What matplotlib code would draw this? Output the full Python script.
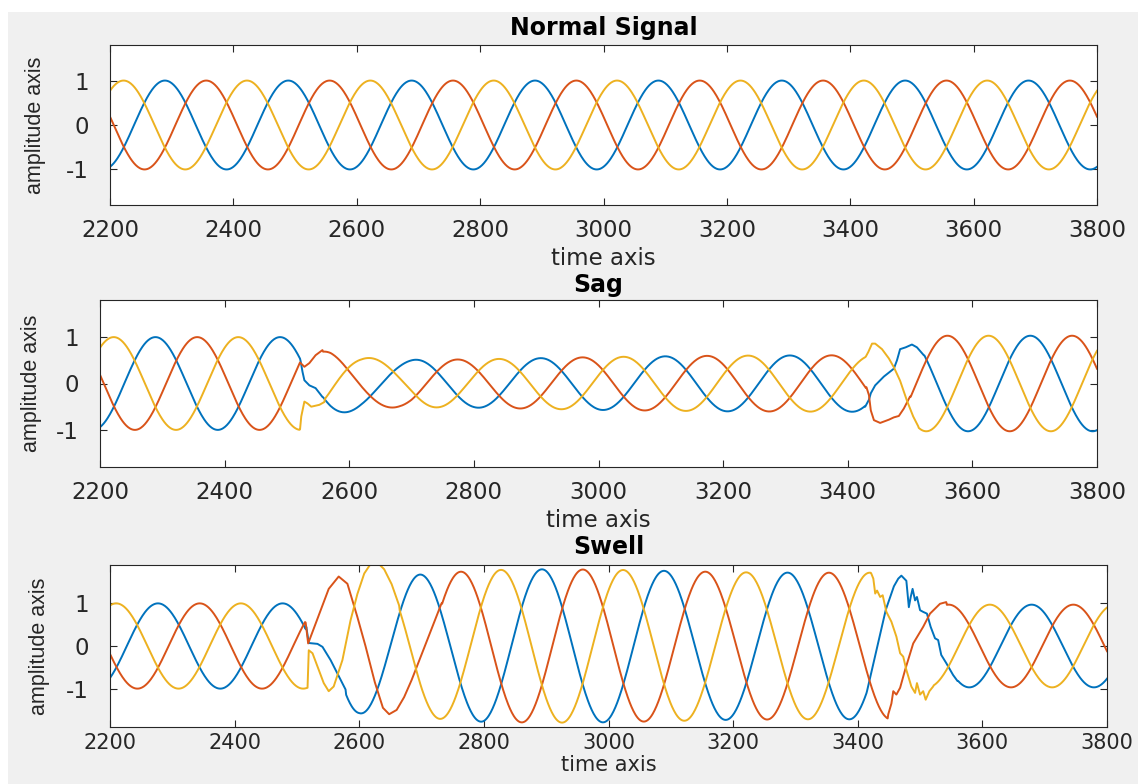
import numpy as np
import matplotlib.pyplot as plt
from matplotlib.patches import Rectangle

# ---------------- data ----------------
period = 200                       # samples per cycle
t_start, t_end = 2200, 3800
colors = ['#0072BD', '#D95319', '#EDB120']
peak_sample = [2289, 2356, 2222]   # a positive peak of each phase (normal signal)

# sag: steady part before / during / after the dip
sag_before_shift, sag_before_amp = 0, 1.0
sag_shift_t = [2520, 2600, 2700, 3430]
sag_shift = [2, 8, 18, 18]
sag_amp_t = [2520, 2570, 2620, 2680, 2800, 3000, 3200, 3430]
sag_amp = [0.72, 0.68, 0.56, 0.51, 0.52, 0.57, 0.60, 0.61]
sag_after_shift, sag_after_amp = 4, 1.03

# sag disturbance samples, one list per phase (blue, red, yellow)
sag_on_t = [[2522, 2525, 2528, 2536, 2546, 2557],
            [2522, 2528, 2536, 2546, 2557],
            [2521, 2523, 2528, 2533, 2539, 2552, 2560]]
sag_on_v = [[0.48, 0.25, 0.07, -0.04, -0.10, -0.29],
            [0.44, 0.36, 0.44, 0.61, 0.72],
            [-0.99, -0.71, -0.39, -0.43, -0.50, -0.46, -0.40]]
sag_off_t = [[3428, 3434, 3437, 3444, 3458, 3474, 3479, 3484, 3493, 3503, 3511, 3522],
             [3430, 3434, 3437, 3442, 3452, 3466, 3474, 3482, 3490, 3500],
             [3429, 3433, 3439, 3444, 3455, 3466, 3474, 3484, 3495, 3505, 3513]]
sag_off_v = [[-0.50, -0.35, -0.21, -0.04, 0.15, 0.32, 0.50, 0.74, 0.78, 0.84, 0.78, 0.61],
             [-0.08, -0.25, -0.58, -0.79, -0.85, -0.78, -0.73, -0.70, -0.54, -0.28],
             [0.58, 0.68, 0.86, 0.86, 0.74, 0.54, 0.35, 0.06, -0.37, -0.71, -0.92]]

# swell: steady part before / during / after the rise
swell_before_shift, swell_before_amp = -12, 1.0
swell_shift_t = [2560, 2700, 2800, 3100, 3440]
swell_shift = [16, 8, 6, 0, -3]
swell_amp_t = [2560, 2600, 2650, 2700, 2800, 2900, 3000, 3100, 3200, 3300, 3460]
swell_amp = [1.65, 1.58, 1.60, 1.68, 1.78, 1.80, 1.79, 1.76, 1.73, 1.72, 1.72]
swell_after_shift, swell_after_amp = -10, 0.97

swell_on_t = [[2515, 2519, 2526, 2533, 2541, 2554, 2570, 2578],
              [2514, 2518, 2527, 2538, 2551, 2567, 2581, 2597, 2610, 2625, 2638, 2648,
               2660, 2672, 2684, 2696, 2708, 2720, 2732],
              [2517, 2519, 2525, 2535, 2543, 2551, 2559, 2573, 2586, 2597, 2608, 2618,
               2629, 2640, 2652, 2664]]
swell_on_v = [[0.45, 0.07, 0.06, 0.05, -0.02, -0.33, -0.79, -1.02],
              [0.55, 0.06, 0.41, 0.84, 1.34, 1.63, 1.46, 0.68, 0.0, -0.85, -1.45, -1.60,
               -1.50, -1.20, -0.80, -0.35, 0.10, 0.55, 1.00],
              [-0.98, -0.10, -0.17, -0.56, -0.87, -1.06, -0.95, -0.33, 0.60, 1.22, 1.70, 1.92,
               1.96, 1.80, 1.45, 0.95]]
swell_off_t = [[3415, 3430, 3445, 3458, 3465, 3470, 3478, 3482, 3485, 3488, 3492, 3495,
                3500, 3505, 3511, 3517, 3524, 3529, 3534, 3542, 3553, 3560],
               [3449, 3454, 3457, 3462, 3468, 3476, 3489, 3505, 3516, 3532, 3542],
               [3422, 3425, 3428, 3431, 3436, 3440, 3446, 3454, 3462, 3468, 3473, 3478,
                3486, 3492, 3495, 3500, 3505, 3509, 3515, 3521]]
swell_off_v = [[-1.05, -0.10, 0.85, 1.40, 1.58, 1.65, 1.53, 0.91, 1.15, 1.34, 1.07, 1.15,
                0.84, 0.80, 0.76, 0.45, 0.18, 0.14, -0.21, -0.40, -0.68, -0.82],
               [-1.60, -1.35, -1.06, -1.14, -0.98, -0.56, 0.06, 0.45, 0.76, 0.99, 1.03],
               [1.69, 1.58, 1.23, 1.30, 1.15, 1.19, 0.80, 0.57, 0.22, -0.17, -0.25, -0.56,
                -0.95, -1.10, -0.87, -1.14, -1.06, -1.26, -1.06, -0.95]]

titles = ['Normal Signal', 'Sag', 'Swell']
x_ticks = list(range(2200, 3801, 200))
y_ticks = [-1, 0, 1]
y_tick_labels = ['-1', '0', '1']


def segment(t0, t1, peak, shift_t, shift_v, amp_t, amp_v):
    t = np.arange(t0, t1 + 1)
    s = np.interp(t, shift_t, shift_v)
    a = np.interp(t, amp_t, amp_v)
    return t, a * np.cos(2 * np.pi * (t - peak - s) / period)


def event(k, on_t, on_v, off_t, off_v, before, mid_shift, mid_amp, after):
    peak = peak_sample[k]
    t1, v1 = segment(t_start, on_t[k][0] - 1, peak, [t_start], [before[0]], [t_start], [before[1]])
    t2, v2 = segment(on_t[k][-1] + 1, off_t[k][0] - 1, peak, *mid_shift, *mid_amp)
    t3, v3 = segment(off_t[k][-1] + 1, t_end, peak, [t_start], [after[0]], [t_start], [after[1]])
    t = np.concatenate([t1, on_t[k], t2, off_t[k], t3])
    v = np.concatenate([v1, on_v[k], v2, off_v[k], v3])
    return t, v


# ---------------- figure ----------------
W, H = 1138, 784
fig = plt.figure(figsize=(W / 100, H / 100), dpi=100, facecolor='white')
fig.patches.append(Rectangle((8 / W, 0), 1, (H - 12) / H, transform=fig.transFigure,
                             facecolor='#f0f0f0', edgecolor='none', zorder=-10))

# axes boxes in pixels: left, top, right, bottom
boxes = [(110, 45, 1097, 205), (100, 300, 1097, 467), (110, 565, 1107, 727)]
ylims = [(-1.8, 1.8), (-1.8, 1.8), (-1.9, 1.9)]
ylabel_x = [46, 42, 50]
title_pads = [7, 6, 8]
xtick_pads = [10, 10, 4]
xtick_sizes = [16.5, 16.5, 15]
xlabel_pads = [4, 4, 2]
xlabel_sizes = [16.5, 16.5, 15]

axes = []
for (l, t, r, b) in boxes:
    axes.append(fig.add_axes([l / W, (H - b) / H, (r - l) / W, (b - t) / H]))

# normal
for k in range(3):
    tt, vv = segment(t_start, t_end, peak_sample[k], [t_start], [0], [t_start], [1.0])
    axes[0].plot(tt, vv, color=colors[k], lw=1.4)

# sag
for k in range(3):
    tt, vv = event(k, sag_on_t, sag_on_v, sag_off_t, sag_off_v,
                   (sag_before_shift, sag_before_amp),
                   (sag_shift_t, sag_shift), (sag_amp_t, sag_amp),
                   (sag_after_shift, sag_after_amp))
    axes[1].plot(tt, vv, color=colors[k], lw=1.4)

# swell
for k in range(3):
    tt, vv = event(k, swell_on_t, swell_on_v, swell_off_t, swell_off_v,
                   (swell_before_shift, swell_before_amp),
                   (swell_shift_t, swell_shift), (swell_amp_t, swell_amp),
                   (swell_after_shift, swell_after_amp))
    axes[2].plot(tt, vv, color=colors[k], lw=1.4)

for i, ax in enumerate(axes):
    l, t, r, b = boxes[i]
    ax.set_xlim(t_start, t_end)
    ax.set_ylim(*ylims[i])
    ax.set_xticks(x_ticks)
    ax.set_yticks(y_ticks)
    ax.set_yticklabels(y_tick_labels)
    ax.tick_params(direction='in', top=True, right=True, length=5, width=0.8,
                   color='#262626', labelcolor='#262626', labelsize=16.5)
    ax.tick_params(axis='x', pad=xtick_pads[i], labelsize=xtick_sizes[i])
    ax.tick_params(axis='y', pad=15)
    for sp in ax.spines.values():
        sp.set_color('#262626')
        sp.set_linewidth(0.8)
    ax.set_title(titles[i], fontsize=17, fontweight='bold', pad=title_pads[i])
    ax.set_xlabel('time axis', fontsize=xlabel_sizes[i], color='#262626', labelpad=xlabel_pads[i])
    ax.set_ylabel('amplitude axis', fontsize=15.5, family='Liberation Sans', color='#262626')
    ax.yaxis.set_label_coords((ylabel_x[i] - l) / (r - l), 0.5)

fig.savefig('out.png', dpi=100, facecolor=fig.get_facecolor())
